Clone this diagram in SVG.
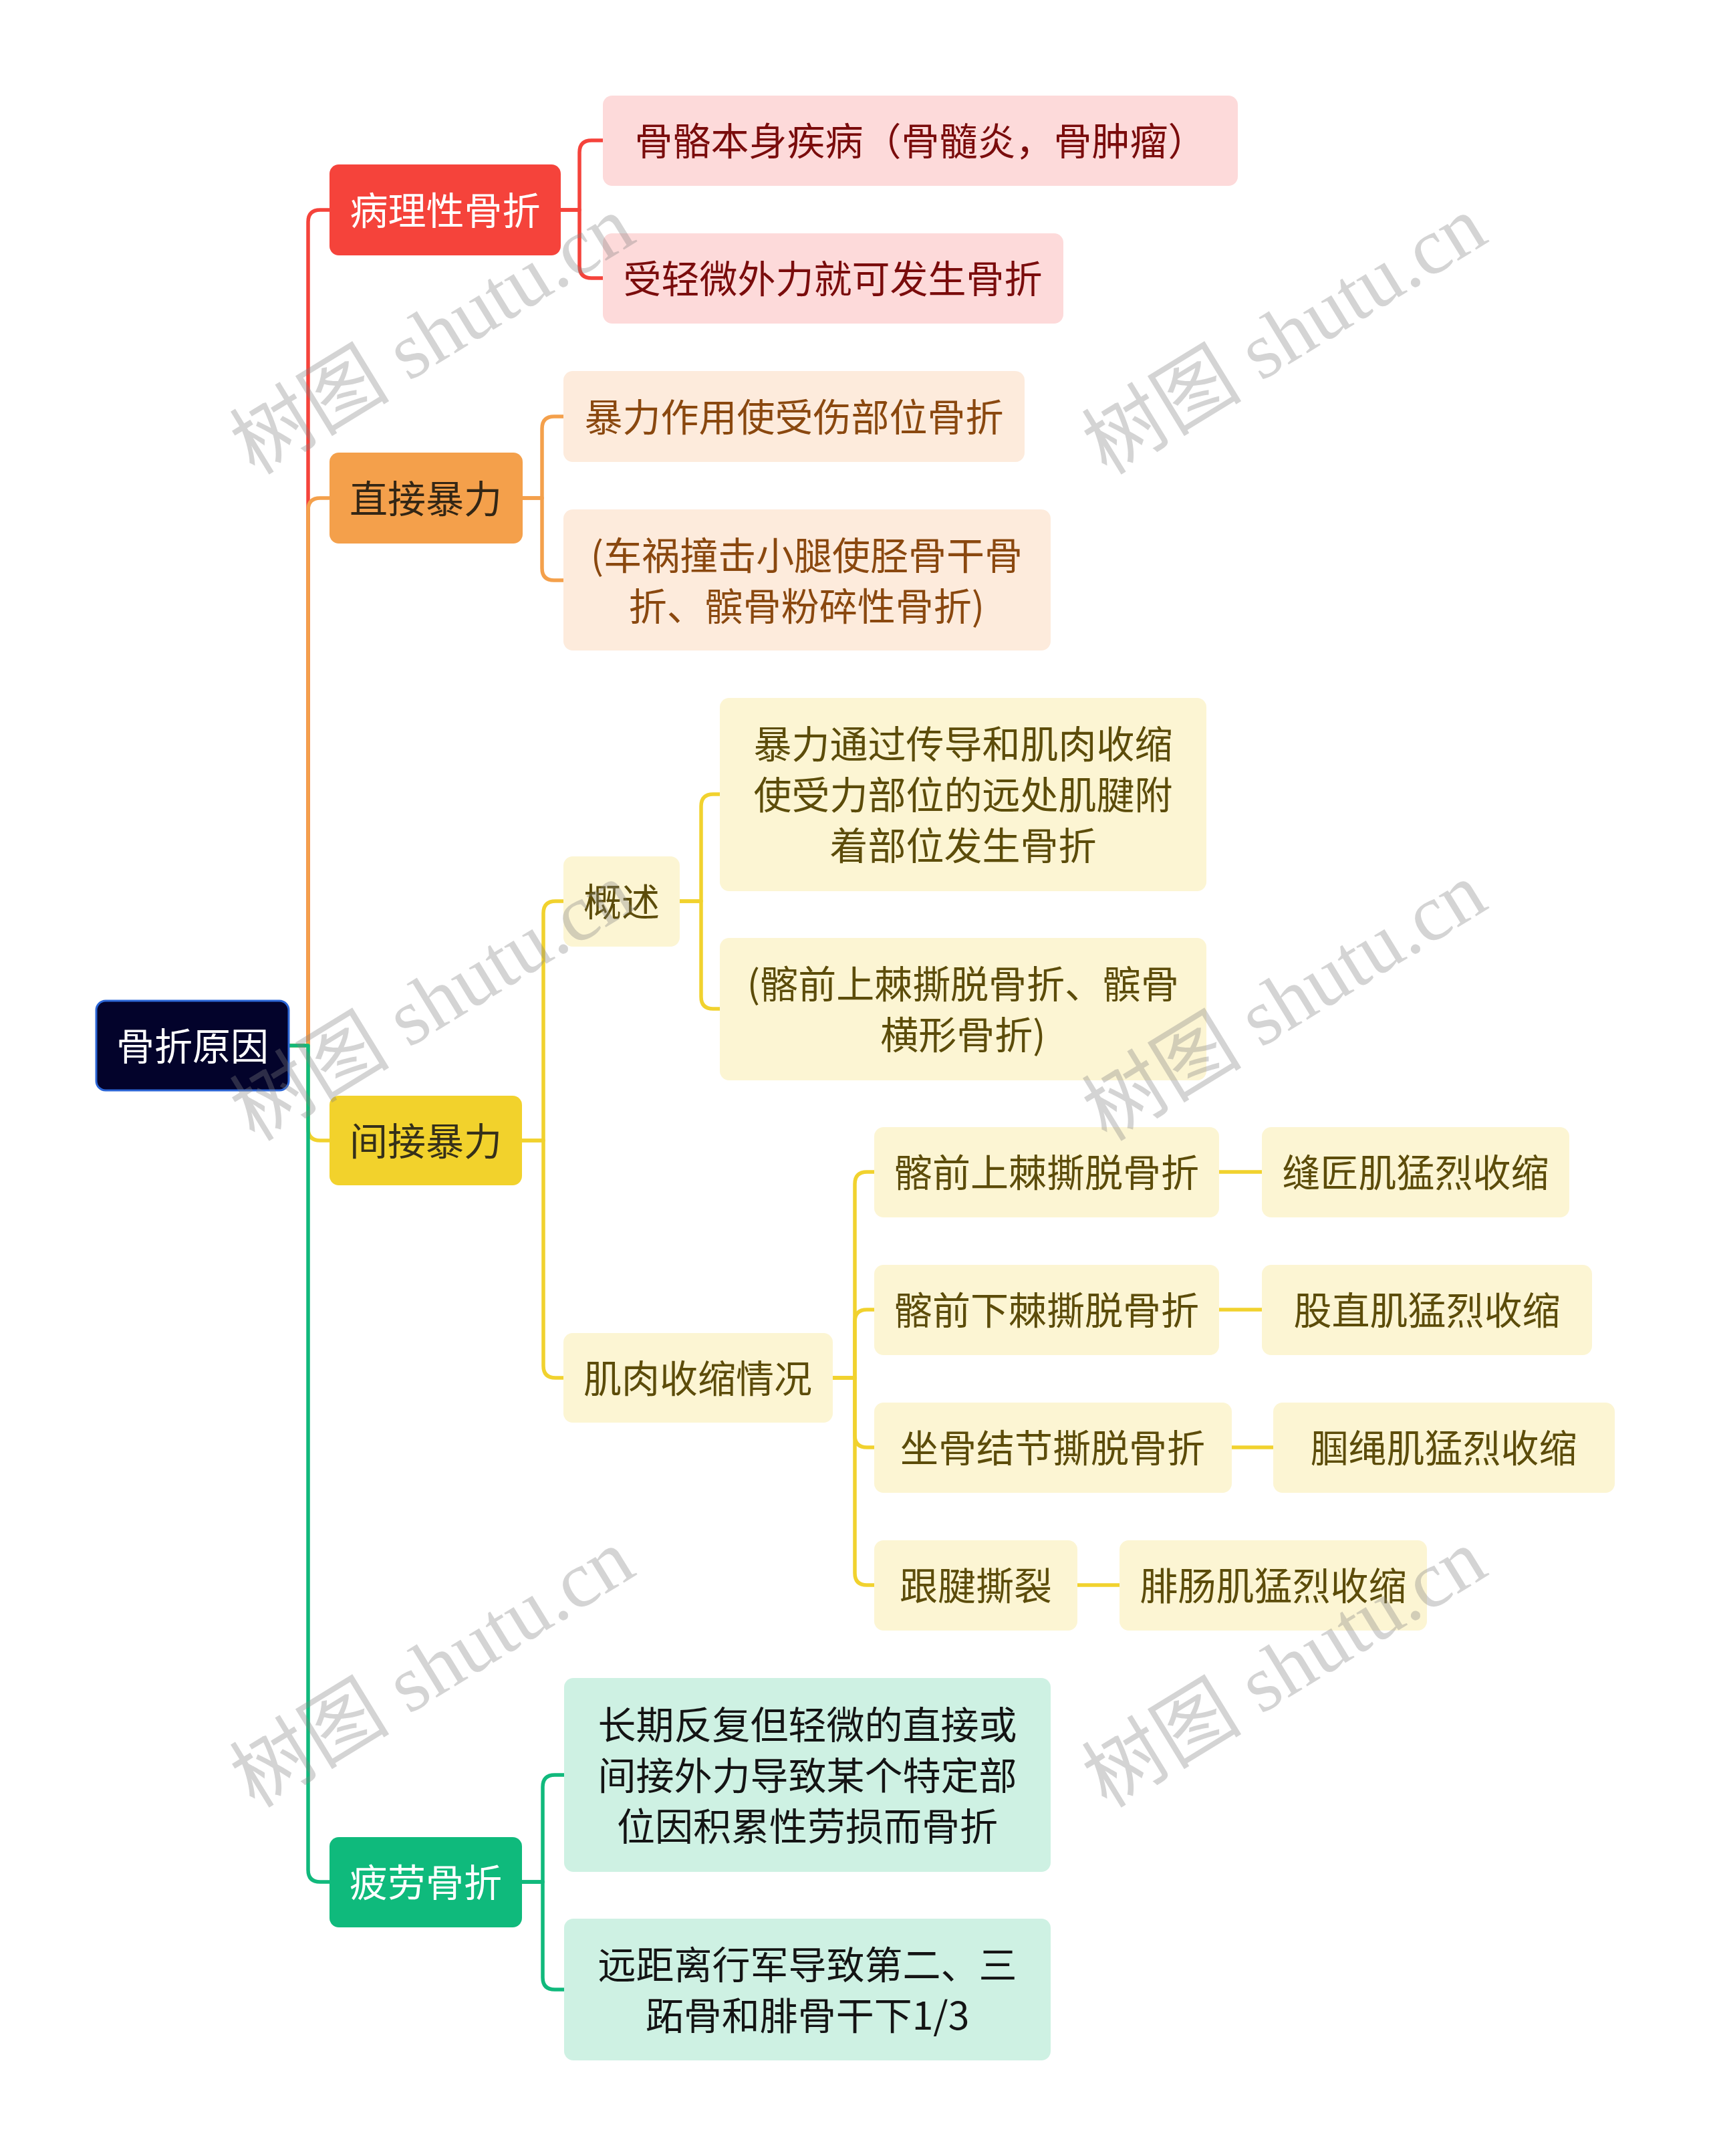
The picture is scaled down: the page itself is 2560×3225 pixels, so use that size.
<svg xmlns="http://www.w3.org/2000/svg" width="2560" height="3225" viewBox="0 0 2560 3225">
<style>
text{font-family:"Noto Sans CJK SC","Noto Sans",sans-serif;font-size:57px;text-anchor:middle}
.lk{fill:none;stroke-width:5.5;stroke-linejoin:round}
.r{stroke:#f5433b}.o{stroke:#f4a04b}.y{stroke:#f1d22e}.g{stroke:#10b97c}
.root rect{fill:#03032b;stroke:#2c66d6;stroke-width:3}
.root text,.l1r text,.l1g text{fill:#ffffff}
.l1r rect{fill:#f5433b}.l1o rect{fill:#f4a04b}.l1y rect{fill:#f2d22c}.l1g rect{fill:#0fba7c}
.l1o text{fill:#332615}.l1y text{fill:#35301a}
.cr rect{fill:#fddada}.cr text{fill:#7a0c0c}
.co rect{fill:#fdebdc}.co text{fill:#8a480f}
.cy rect{fill:#fcf5d3}.cy text{fill:#5c4c0a}
.cg rect{fill:#cef1e3}.cg text{fill:#141414}
.wm{font-family:"Liberation Serif","Noto Sans CJK SC",serif;font-size:120px;fill:#808080;fill-opacity:0.34;text-anchor:start}
</style>
<rect width="2560" height="3225" fill="#ffffff"/>
<g id="connectors">
<path class="lk r" d="M432 1564H461V332Q461 314 479 314H493"/>
<path class="lk r" d="M839 314H867V228Q867 210 885 210H902"/>
<path class="lk r" d="M839 314H867V398Q867 416 885 416H902"/>
<path class="lk o" d="M432 1564H461V763Q461 745 479 745H493"/>
<path class="lk o" d="M782 745H811V641Q811 623 829 623H843"/>
<path class="lk o" d="M782 745H811V850Q811 868 829 868H843"/>
<path class="lk y" d="M432 1564H461V1688Q461 1706 479 1706H493"/>
<path class="lk y" d="M781 1706H813V1366Q813 1348 831 1348H843"/>
<path class="lk y" d="M781 1706H813V2043Q813 2061 831 2061H843"/>
<path class="lk y" d="M1017 1348H1049V1206Q1049 1188 1067 1188H1077"/>
<path class="lk y" d="M1017 1348H1049V1491Q1049 1509 1067 1509H1077"/>
<path class="lk y" d="M1246 2061H1279V1771Q1279 1753 1297 1753H1308"/>
<path class="lk y" d="M1246 2061H1279V1977Q1279 1959 1297 1959H1308"/>
<path class="lk y" d="M1246 2061H1279V2147Q1279 2165 1297 2165H1308"/>
<path class="lk y" d="M1246 2061H1279V2353Q1279 2371 1297 2371H1308"/>
<path class="lk y" d="M1824 1753H1888M1824 1959H1888M1843 2165H1905M1612 2371H1675"/>
<path class="lk g" d="M432 1564H461V2797Q461 2815 479 2815H493"/>
<path class="lk g" d="M781 2815H812V2673Q812 2655 830 2655H844"/>
<path class="lk g" d="M781 2815H812V2958Q812 2976 830 2976H844"/>
</g>
<g id="root" class="root"><rect x="144" y="1497" width="288" height="134" rx="14"/><text x="288" y="1586">骨折原因</text></g>
<g id="n-pathological" class="l1r"><rect x="493" y="246" width="346" height="136" rx="14"/><text x="666" y="336">病理性骨折</text></g>
<g id="n-p1" class="cr"><rect x="902" y="143" width="950" height="135" rx="14"/><text x="1377" y="232">骨骼本身疾病（骨髓炎，骨肿瘤）</text></g>
<g id="n-p2" class="cr"><rect x="902" y="349" width="689" height="135" rx="14"/><text x="1246" y="438">受轻微外力就可发生骨折</text></g>
<g id="n-direct" class="l1o"><rect x="493" y="677" width="289" height="136" rx="14"/><text x="637" y="767">直接暴力</text></g>
<g id="n-d1" class="co"><rect x="843" y="555" width="690" height="136" rx="14"/><text x="1188" y="645">暴力作用使受伤部位骨折</text></g>
<g id="n-d2" class="co"><rect x="843" y="762" width="729" height="211" rx="14"/><text x="1207" y="852">(车祸撞击小腿使胫骨干骨</text><text x="1207" y="928">折、髌骨粉碎性骨折)</text></g>
<g id="n-indirect" class="l1y"><rect x="493" y="1639" width="288" height="134" rx="14"/><text x="637" y="1728">间接暴力</text></g>
<g id="n-overview" class="cy"><rect x="843" y="1281" width="174" height="135" rx="14"/><text x="930" y="1370">概述</text></g>
<g id="n-o1" class="cy"><rect x="1077" y="1044" width="728" height="289" rx="14"/><text x="1441" y="1134">暴力通过传导和肌肉收缩</text><text x="1441" y="1210">使受力部位的远处肌腱附</text><text x="1441" y="1286">着部位发生骨折</text></g>
<g id="n-o2" class="cy"><rect x="1077" y="1403" width="728" height="213" rx="14"/><text x="1441" y="1493">(髂前上棘撕脱骨折、髌骨</text><text x="1441" y="1569">横形骨折)</text></g>
<g id="n-muscle" class="cy"><rect x="843" y="1994" width="403" height="134" rx="14"/><text x="1044" y="2083">肌肉收缩情况</text></g>
<g id="n-m1" class="cy"><rect x="1308" y="1686" width="516" height="135" rx="14"/><text x="1566" y="1775">髂前上棘撕脱骨折</text></g>
<g id="n-m1b" class="cy"><rect x="1888" y="1686" width="460" height="135" rx="14"/><text x="2118" y="1775">缝匠肌猛烈收缩</text></g>
<g id="n-m2" class="cy"><rect x="1308" y="1892" width="516" height="135" rx="14"/><text x="1566" y="1981">髂前下棘撕脱骨折</text></g>
<g id="n-m2b" class="cy"><rect x="1888" y="1892" width="494" height="135" rx="14"/><text x="2135" y="1981">股直肌猛烈收缩</text></g>
<g id="n-m3" class="cy"><rect x="1308" y="2098" width="535" height="135" rx="14"/><text x="1575" y="2187">坐骨结节撕脱骨折</text></g>
<g id="n-m3b" class="cy"><rect x="1905" y="2098" width="511" height="135" rx="14"/><text x="2160" y="2187">腘绳肌猛烈收缩</text></g>
<g id="n-m4" class="cy"><rect x="1308" y="2304" width="304" height="135" rx="14"/><text x="1460" y="2393">跟腱撕裂</text></g>
<g id="n-m4b" class="cy"><rect x="1675" y="2304" width="460" height="135" rx="14"/><text x="1905" y="2393">腓肠肌猛烈收缩</text></g>
<g id="n-fatigue" class="l1g"><rect x="493" y="2748" width="288" height="135" rx="14"/><text x="637" y="2837">疲劳骨折</text></g>
<g id="n-f1" class="cg"><rect x="844" y="2510" width="728" height="290" rx="14"/><text x="1208" y="2601">长期反复但轻微的直接或</text><text x="1208" y="2677">间接外力导致某个特定部</text><text x="1208" y="2753">位因积累性劳损而骨折</text></g>
<g id="n-f2" class="cg"><rect x="844" y="2870" width="728" height="212" rx="14"/><text x="1208" y="2960">远距离行军导致第二、三</text><text x="1208" y="3036">跖骨和腓骨干下1/3</text></g>
<g id="watermarks">
<text class="wm" transform="translate(381 712) rotate(-31.5)">树图 shutu.cn</text>
<text class="wm" transform="translate(1656 712) rotate(-31.5)">树图 shutu.cn</text>
<text class="wm" transform="translate(381 1709) rotate(-31.5)">树图 shutu.cn</text>
<text class="wm" transform="translate(1656 1709) rotate(-31.5)">树图 shutu.cn</text>
<text class="wm" transform="translate(381 2706) rotate(-31.5)">树图 shutu.cn</text>
<text class="wm" transform="translate(1656 2706) rotate(-31.5)">树图 shutu.cn</text>
</g>
</svg>
